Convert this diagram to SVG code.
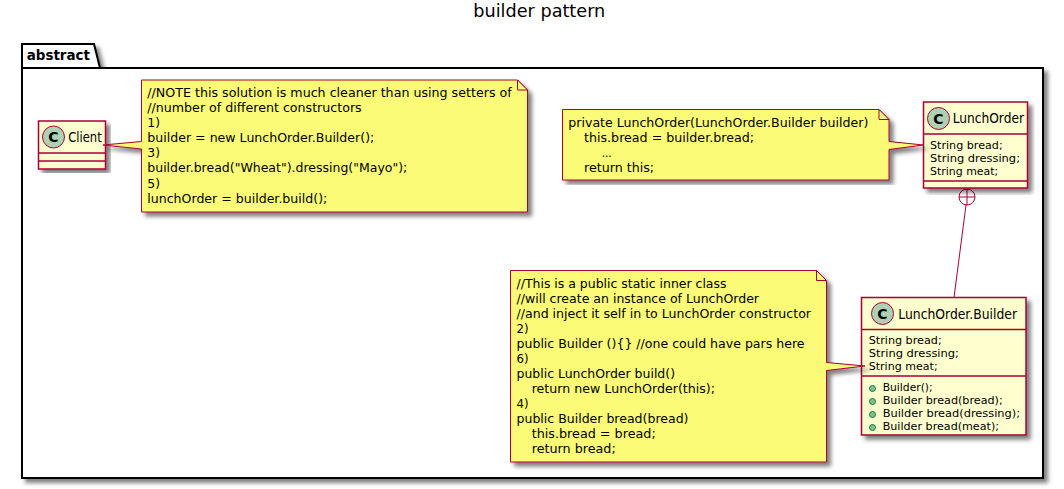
<svg xmlns="http://www.w3.org/2000/svg" width="1064" height="489" viewBox="0 0 1064 489">
<defs>
<filter id="sh" x="-5%" y="-5%" width="112%" height="112%"><feDropShadow dx="4" dy="4" stdDeviation="2" flood-color="#000" flood-opacity="0.5"/></filter>
</defs>
<style>
text{font-family:"DejaVu Sans",sans-serif;fill:#000}
.t{font-size:18px}
.pk{fill:#fff;stroke:#000;stroke-width:2}
.pl{font-size:14px;font-weight:bold}
.c{fill:#FEFECE;stroke:#A80036;stroke-width:1.5}
.d{stroke:#A80036;stroke-width:1.5;fill:none}
.ci{fill:#ADD1B2;stroke:#A80036;stroke-width:1}
.g{font-size:14px;font-weight:bold;text-anchor:middle}
.n{font-size:14px}
.m{font-size:11px}
.o{fill:#FBFB77;stroke:#A80036;stroke-width:1}
.f{fill:#FBFB77;stroke:#A80036;stroke-width:1}
.k{font-size:13px}
.l{fill:none;stroke:#A80036;stroke-width:1}
.v{fill:#84BE84;stroke:#038048;stroke-width:1}
</style>
<text class="t" x="473.300" y="17" textLength="132" lengthAdjust="spacingAndGlyphs">builder pattern</text>
<g id="abstract">
<path class="pk" filter="url(#sh)" d="M22 68V44H94L100 68H1043V478H22Z"/>
<path class="d" style="stroke:#000;stroke-width:2" d="M22 68H100"/>
<text class="pl" x="26.700" y="60" textLength="63.300" lengthAdjust="spacingAndGlyphs">abstract</text>
</g>
<g id="connectors">
<path class="l" d="M966 205L954 297.500"/>
<circle class="l" style="fill:#fff" cx="967" cy="197" r="8"/>
<path class="l" d="M959 197H975M967 189V205"/>
</g>
<g id="Client">
<rect class="c" filter="url(#sh)" x="38.500" y="121" width="67" height="48"/>
<path class="d" d="M38.500 153H105.500M38.500 161H105.500"/>
<circle class="ci" cx="53.500" cy="137" r="11"/>
<text class="g" x="53.500" y="142">C</text>
<text class="n" x="68.300" y="142" textLength="33.400" lengthAdjust="spacingAndGlyphs">Client</text>
</g>
<g id="LunchOrder">
<rect class="c" filter="url(#sh)" x="923.500" y="102" width="104" height="86"/>
<path class="d" d="M923.500 134H1027.500M923.500 181H1027.500"/>
<circle class="ci" cx="938.500" cy="118.500" r="11"/>
<text class="g" x="938.500" y="123.500">C</text>
<text class="n" x="952.700" y="123" textLength="71.300" lengthAdjust="spacingAndGlyphs">LunchOrder</text>
<text class="m" x="930" y="149" textLength="72.700" lengthAdjust="spacingAndGlyphs">String bread;</text>
<text class="m" x="930" y="162" textLength="90" lengthAdjust="spacingAndGlyphs">String dressing;</text>
<text class="m" x="930" y="175" textLength="68.300" lengthAdjust="spacingAndGlyphs">String meat;</text>
</g>
<g id="LunchOrder.Builder">
<rect class="c" filter="url(#sh)" x="861.500" y="297.500" width="164.500" height="137.500"/>
<path class="d" d="M861.500 329.500H1026M861.500 376H1026"/>
<circle class="ci" cx="882.500" cy="313.500" r="11"/>
<text class="g" x="882.500" y="318.500">C</text>
<text class="n" x="898.300" y="318.500" textLength="118.700" lengthAdjust="spacingAndGlyphs">LunchOrder.Builder</text>
<text class="m" x="868.700" y="344" textLength="73" lengthAdjust="spacingAndGlyphs">String bread;</text>
<text class="m" x="868.700" y="357" textLength="90.300" lengthAdjust="spacingAndGlyphs">String dressing;</text>
<text class="m" x="868.700" y="370" textLength="69" lengthAdjust="spacingAndGlyphs">String meat;</text>
<circle class="v" cx="872.500" cy="388.500" r="3"/>
<circle class="v" cx="872.500" cy="401.500" r="3"/>
<circle class="v" cx="872.500" cy="414.500" r="3"/>
<circle class="v" cx="872.500" cy="427.500" r="3"/>
<text class="m" x="882.700" y="391" textLength="50" lengthAdjust="spacingAndGlyphs">Builder();</text>
<text class="m" x="882.700" y="404" textLength="120" lengthAdjust="spacingAndGlyphs">Builder bread(bread);</text>
<text class="m" x="882.700" y="417" textLength="137.300" lengthAdjust="spacingAndGlyphs">Builder bread(dressing);</text>
<text class="m" x="882.700" y="430" textLength="116.300" lengthAdjust="spacingAndGlyphs">Builder bread(meat);</text>
</g>
<g id="note1">
<path class="o" filter="url(#sh)" d="M141.500 80H517.500L527.500 90V212H141.500V149L103 145L141.500 141.500Z"/>
<path class="f" d="M517.500 80V90H527.500Z"/>
<text class="k" x="147.300" y="97" textLength="364.400" lengthAdjust="spacingAndGlyphs">//NOTE this solution is much cleaner than using setters of</text>
<text class="k" x="147.300" y="112" textLength="214.400" lengthAdjust="spacingAndGlyphs">//number of different constructors</text>
<text class="k" x="147.300" y="127" textLength="12.700" lengthAdjust="spacingAndGlyphs">1)</text>
<text class="k" x="147.300" y="142" textLength="227" lengthAdjust="spacingAndGlyphs">builder = new LunchOrder.Builder();</text>
<text class="k" x="147.300" y="157" textLength="12.700" lengthAdjust="spacingAndGlyphs">3)</text>
<text class="k" x="147.300" y="172" textLength="260" lengthAdjust="spacingAndGlyphs">builder.bread("Wheat").dressing("Mayo");</text>
<text class="k" x="147.300" y="188" textLength="12.700" lengthAdjust="spacingAndGlyphs">5)</text>
<text class="k" x="147.300" y="203" textLength="180" lengthAdjust="spacingAndGlyphs">lunchOrder = builder.build();</text>
</g>
<g id="note2">
<path class="o" filter="url(#sh)" d="M562.500 109.500H879L889 119.500V141.500L923.500 145L889 149.500V180H562.500Z"/>
<path class="f" d="M879 109.500V119.500H889Z"/>
<text class="k" x="568.300" y="127" textLength="300" lengthAdjust="spacingAndGlyphs">private LunchOrder(LunchOrder.Builder builder)</text>
<text class="k" x="584" y="142" textLength="170" lengthAdjust="spacingAndGlyphs">this.bread = builder.bread;</text>
<text class="k" x="601.700" y="157" textLength="10" lengthAdjust="spacingAndGlyphs">...</text>
<text class="k" x="584" y="172" textLength="70" lengthAdjust="spacingAndGlyphs">return this;</text>
</g>
<g id="note3">
<path class="o" filter="url(#sh)" d="M510.500 270.500H816.500L826.500 280.500V362.500L865 366L826.500 370.500V462H510.500Z"/>
<path class="f" d="M816.500 270.500V280.500H826.500Z"/>
<text class="k" x="516.500" y="288" textLength="210" lengthAdjust="spacingAndGlyphs">//This is a public static inner class</text>
<text class="k" x="516.500" y="303" textLength="242.500" lengthAdjust="spacingAndGlyphs">//will create an instance of LunchOrder</text>
<text class="k" x="516.500" y="318" textLength="294.500" lengthAdjust="spacingAndGlyphs">//and inject it self in to LunchOrder constructor</text>
<text class="k" x="516.500" y="333" textLength="12" lengthAdjust="spacingAndGlyphs">2)</text>
<text class="k" x="516.500" y="348" textLength="288" lengthAdjust="spacingAndGlyphs">public Builder (){} //one could have pars here</text>
<text class="k" x="516.500" y="363" textLength="12" lengthAdjust="spacingAndGlyphs">6)</text>
<text class="k" x="516.500" y="378" textLength="158.500" lengthAdjust="spacingAndGlyphs">public LunchOrder build()</text>
<text class="k" x="531.700" y="393" textLength="183.300" lengthAdjust="spacingAndGlyphs">return new LunchOrder(this);</text>
<text class="k" x="516.500" y="408" textLength="12" lengthAdjust="spacingAndGlyphs">4)</text>
<text class="k" x="516.500" y="423" textLength="172" lengthAdjust="spacingAndGlyphs">public Builder bread(bread)</text>
<text class="k" x="531.700" y="438" textLength="124" lengthAdjust="spacingAndGlyphs">this.bread = bread;</text>
<text class="k" x="531.700" y="453" textLength="84" lengthAdjust="spacingAndGlyphs">return bread;</text>
</g>
</svg>
